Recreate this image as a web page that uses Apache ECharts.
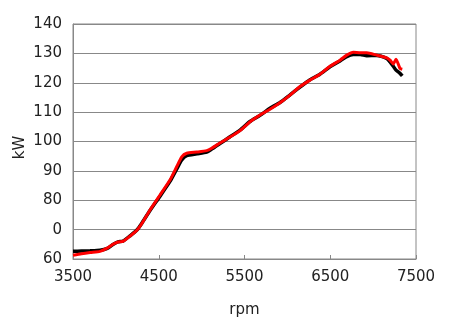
<!DOCTYPE html>
<html>
<head>
<meta charset="utf-8">
<script src="https://cdn.jsdelivr.net/npm/echarts@6/dist/echarts.min.js"></script>
<style>
  html, body { margin: 0; padding: 0; background: #fff; }
  #main { width: 450px; height: 327px; }
</style>
</head>
<body>
<div id="main"></div>
<script>
// 数据：转速 (rpm) 与功率 (kW)
var rpm = [3500, 3600, 3700, 3815, 3893, 3966, 4025, 4083, 4165, 4243, 4301, 4398,
  4515, 4631, 4709, 4768, 4826, 4943, 5059, 5117, 5214, 5331, 5448, 5564,
  5681, 5797, 5914, 6031, 6147, 6264, 6380, 6497, 6614, 6692, 6769, 6850,
  6925, 7042, 7158, 7197, 7235, 7267, 7313, 7340]
var redKw = [61.3, 61.8, 62.2, 62.6, 63.6, 65.0, 65.8, 66.0, 67.8, 69.7, 72.0, 76.7,
  81.8, 86.9, 91.4, 94.8, 96.0, 96.4, 96.9, 97.7, 99.5, 101.5, 103.7, 106.7,
  109.0, 111.0, 113.2, 115.8, 118.7, 120.9, 122.9, 125.6, 127.7, 129.4, 130.4, 130.2,
  130.2, 129.4, 128.5, 127.7, 126.4, 128.0, 124.9, 124.6]
var blackKw = [62.6, 62.7, 62.8, 63.0, 63.5, 64.9, 65.8, 66.1, 67.9, 69.8, 72.1, 76.5,
  81.4, 86.4, 90.6, 93.7, 95.2, 95.8, 96.4, 97.4, 99.3, 101.6, 103.9, 106.8,
  108.9, 111.3, 113.3, 115.9, 118.5, 121.0, 122.9, 125.4, 127.4, 128.9, 129.6, 129.6,
  129.2, 129.3, 128.3, 127.1, 125.6, 124.3, 123.2, 122.3]
var xTicks = [3500, 4500, 5500, 6500, 7500]
var yLabels = ['60', '0', '80', '90', '100', '110', '120', '130', '140']

function pairs (xs, ys) {
  return xs.map(function (x, i) { return [x, ys[i]] })
}

var myChart = echarts.init(document.getElementById('main'))
var font = 'DejaVu Sans'

myChart.setOption({
  animation: false,
  backgroundColor: '#fff',
  grid: {
    left: 73,
    right: 34,
    top: 24,
    bottom: 68,
    show: true,
    borderColor: '#888',
    borderWidth: 1
  },
  xAxis: {
    type: 'value',
    min: 3500,
    max: 7500,
    name: 'rpm',
    nameLocation: 'middle',
    nameGap: 44,
    nameTextStyle: { fontFamily: font, fontSize: 15, color: '#222' },
    axisLine: { lineStyle: { color: '#888' } },
    axisTick: { inside: true, length: 4, customValues: xTicks, lineStyle: { color: '#888' } },
    axisLabel: {
      customValues: xTicks,
      margin: 11,
      fontFamily: font,
      fontSize: 15,
      color: '#222',
      formatter: function (v) { return String(v) }
    },
    splitLine: { show: false }
  },
  yAxis: {
    type: 'value',
    min: 60,
    max: 140,
    interval: 10,
    name: 'kW',
    nameLocation: 'middle',
    nameGap: 45,
    nameMoveOverlap: false,
    nameTextStyle: { fontFamily: font, fontSize: 15, color: '#222', padding: [0, 12, 0, 0] },
    axisLine: { show: true, lineStyle: { color: '#888' } },
    axisTick: { show: false },
    axisLabel: {
      margin: 11,
      fontFamily: font,
      fontSize: 15,
      color: '#222',
      formatter: function (v) { return yLabels[Math.round((v - 60) / 10)] }
    },
    splitLine: { lineStyle: { color: '#888', width: 1 } }
  },
  series: [
    {
      type: 'line',
      data: pairs(rpm, blackKw),
      showSymbol: false,
      smooth: 0.2,
      lineStyle: { color: '#000', width: 3.5 }
    },
    {
      type: 'line',
      data: pairs(rpm, redKw),
      showSymbol: false,
      smooth: 0.2,
      lineStyle: { color: '#f00', width: 3 }
    }
  ]
})
</script>
</body>
</html>
